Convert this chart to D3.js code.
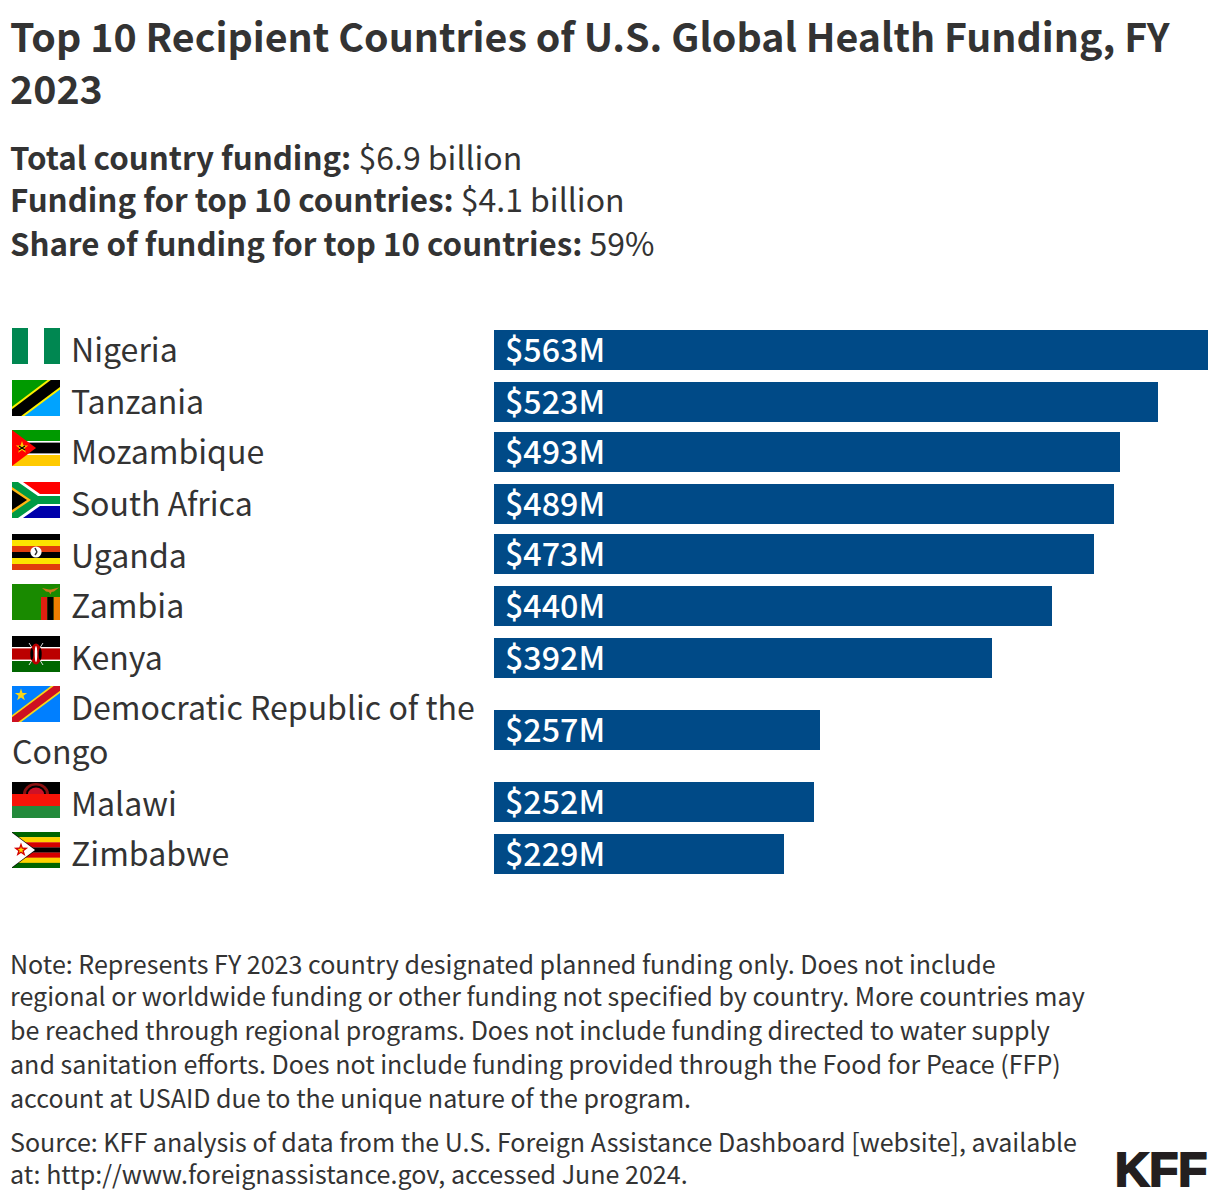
<!DOCTYPE html>
<html><head><meta charset="utf-8">
<script src="https://cdn.jsdelivr.net/npm/d3@7/dist/d3.min.js"></script>
<style>html,body{margin:0;padding:0;background:#fff}svg{display:block}
text{font-family:"Noto Sans CJK SC","Noto Sans CJK JP","Noto Sans",sans-serif;fill:#333}</style>
</head><body><svg id="c" width="1220" height="1204"></svg>
<script>
const countries=["Nigeria","Tanzania","Mozambique","South Africa","Uganda","Zambia","Kenya","Democratic Republic of the Congo","Malawi","Zimbabwe"];
const funding=[563,523,493,489,473,440,392,257,252,229];
const flagCodes=["ng","tz","mz","za","ug","zm","ke","cd","mw","zw"];
const valueLabels=["$563M","$523M","$493M","$489M","$473M","$440M","$392M","$257M","$252M","$229M"];
const titleLines=["Top 10 Recipient Countries of U.S. Global Health Funding, FY","2023"];
const summaryLabels=["Total country funding:","Funding for top 10 countries:","Share of funding for top 10 countries:"];
const summaryValues=["$6.9 billion","$4.1 billion","59%"];
const noteLines=["Note: Represents FY 2023 country designated planned funding only. Does not include","regional or worldwide funding or other funding not specified by country. More countries may","be reached through regional programs. Does not include funding directed to water supply","and sanitation efforts. Does not include funding provided through the Food for Peace (FFP)","account at USAID due to the unique nature of the program."];
const sourceLines=["Source: KFF analysis of data from the U.S. Foreign Assistance Dashboard [website], available","at: http://www.foreignassistance.gov, accessed June 2024."];

const svg=d3.select("#c");
const ink="#333333", barColor="#004a87";

// header
svg.selectAll(".t").data(titleLines).join("text").attr("class","t")
  .attr("x",10).attr("y",(d,i)=>52+i*52).attr("font-size",39.35).attr("font-weight",700).text(d=>d);
const sumY=[170,212,256];
summaryLabels.forEach((l,i)=>{
  const t=svg.append("text").attr("x",10).attr("y",sumY[i]);
  t.append("tspan").attr("font-weight",700).attr("font-size",31.3).text(l);
  t.append("tspan").attr("font-weight",400).attr("font-size",32).text(" "+summaryValues[i]);
});

// scales
const x=d3.scaleLinear().domain([0,d3.max(funding)]).range([494,1208]);
const snap=v=>Math.round(v/2)*2;
const rowStep=51.2, extraLine=43, labelSize=32.1, labelX=71, wrapAt=482;

// wrap labels by measured width
const probe=svg.append("text").attr("font-size",labelSize);
const wrapped=countries.map(n=>{
  const lines=[];let cur="";
  n.split(" ").forEach(w=>{
    const tryL=cur?cur+" "+w:w;
    probe.text(tryL);
    const startX=lines.length?12:labelX;
    if(cur&&startX+probe.node().getComputedTextLength()>wrapAt){lines.push(cur);cur=w}else cur=tryL;
  });
  lines.push(cur);return lines;
});
probe.remove();

const extras=wrapped.map(l=>l.length-1);
const rowTop=[];let acc=330;
countries.forEach((c,i)=>{rowTop.push(acc);acc+=rowStep+extras[i]*extraLine;});

const rows=svg.selectAll(".row").data(countries.map((c,i)=>({c,i,v:funding[i],lab:valueLabels[i],code:flagCodes[i],lines:wrapped[i],top:rowTop[i],extra:extras[i]})))
  .join("g").attr("class","row");

rows.append("rect")
  .attr("x",x(0)).attr("width",d=>snap(x(d.v))-x(0))
  .attr("y",d=>snap(d.top+d.extra*extraLine/2)).attr("height",40).attr("fill",barColor);
rows.append("text").attr("x",x(0)+11)
  .attr("y",d=>snap(d.top+d.extra*extraLine/2)+32)
  .attr("font-size",32.2).style("fill","#fff")
  .style("font-weight",500).text(d=>d.lab);

rows.each(function(d){
  const g=d3.select(this), fy=snap(d.top-1.6);
  const t=g.append("text").attr("font-size",labelSize).attr("y",fy+34).style("fill",ink);
  d.lines.forEach((l,j)=>{
    t.append("tspan").attr("x",j?12:labelX).attr("y",fy+34+j*44).text(l);
  });
  const f=g.append("svg").attr("x",12).attr("y",fy).attr("width",48).attr("height",36).attr("viewBox","0 0 48 36");
  drawFlag(f,d.code);
});

function R(f,x,y,w,h,c){f.append("rect").attr("x",x).attr("y",y).attr("width",w).attr("height",h).attr("fill",c)}
function P(f,pts,c){f.append("polygon").attr("points",pts).attr("fill",c)}
function L(f,x1,y1,x2,y2,c,w){f.append("line").attr("x1",x1).attr("y1",y1).attr("x2",x2).attr("y2",y2).attr("stroke",c).attr("stroke-width",w)}
function star(cx,cy,r){return d3.range(10).map(i=>{const a=-Math.PI/2+i*Math.PI/5,q=i%2?r*0.4:r;return (cx+q*Math.cos(a))+","+(cy+q*Math.sin(a))}).join(" ")}
function drawFlag(f,code){
  if(code==="ng"){R(f,0,0,16,36,"#008751");R(f,16,0,16,36,"#fff");R(f,32,0,16,36,"#008751");}
  if(code==="tz"){R(f,0,0,48,36,"#009a00");P(f,"48,0 48,36 0,36","#00a3ff");L(f,-4,39,52,-3,"#fcf000",15);L(f,-4,39,52,-3,"#000",11);}
  if(code==="mz"){R(f,0,0,48,12,"#009a00");R(f,0,12,48,12,"#000");R(f,0,24,48,12,"#ffca00");R(f,0,11,48,1.6,"#fff");R(f,0,23.4,48,1.6,"#fff");
    P(f,"0,0 24,18 0,36","#f00");P(f,star(10,17.5,6.5),"#ffca00");L(f,7,20,13,16,"#000",1.2);L(f,7,16,13,20,"#000",1.2);}
  if(code==="za"){R(f,0,0,48,18,"#f00");R(f,0,18,48,18,"#00a");
    P(f,"0,0 11,0 28,12 48,12 48,24 28,24 11,36 0,36","#fff");
    P(f,"0,0 6,0 26,14 48,14 48,22 26,22 6,36 0,36","#009a44");
    P(f,"0,5 19,18 0,31","#ffb612");P(f,"0,8 15,18 0,28","#000");}
  if(code==="ug"){["#000","#fce300","#e03c0c","#000","#fce300","#e03c0c"].forEach((c,i)=>R(f,0,i*6,48,6,c));
    f.append("circle").attr("cx",24).attr("cy",18).attr("r",5.6).attr("fill","#fff");
    L(f,23,14,25,18,"#333",1.6);L(f,25,18,23,21,"#333",1.4);}
  if(code==="zm"){R(f,0,0,48,36,"#198a00");R(f,29,13,6.4,23,"#de2010");R(f,35.4,13,6.3,23,"#000");R(f,41.7,13,6.3,23,"#ef7d00");
    P(f,"30,4 37,5.5 39,5.5 47,3.5 42,7.5 39.5,8 38.5,10.5 37,8 34,7.5","#c9781a");}
  if(code==="ke"){R(f,0,0,48,12,"#000");R(f,0,12,48,12,"#b00");R(f,0,24,48,12,"#060");R(f,0,11,48,1.4,"#fff");R(f,0,23.6,48,1.4,"#fff");
    L(f,17,7,31,29,"#ddd",1);L(f,31,7,17,29,"#ddd",1);
    f.append("ellipse").attr("cx",24).attr("cy",18).attr("rx",5.5).attr("ry",10.5).attr("fill","#b00");
    f.append("ellipse").attr("cx",19.8).attr("cy",18).attr("rx",1.5).attr("ry",6).attr("fill","#000");
    f.append("ellipse").attr("cx",28.2).attr("cy",18).attr("rx",1.5).attr("ry",6).attr("fill","#000");
    f.append("ellipse").attr("cx",24).attr("cy",18).attr("rx",1.3).attr("ry",8).attr("fill","#fff");}
  if(code==="cd"){R(f,0,0,48,36,"#007fff");L(f,-4,39,52,-3,"#f7d618",11);L(f,-4,39,52,-3,"#ce1021",7.5);P(f,star(9,9,6.5),"#f7d618");}
  if(code==="mw"){R(f,0,0,48,12,"#000");R(f,0,12,48,12,"#f71408");R(f,0,24,48,12,"#238a3c");
    f.append("path").attr("d","M11,12 A13,11 0 0 1 37,12 Z").attr("fill","#8a1010");f.append("path").attr("d","M14,12 A10,8.5 0 0 1 34,12 Z").attr("fill","#000");f.append("path").attr("d","M16,12 A8,6.5 0 0 1 32,12 Z").attr("fill","#ce1126");}
  if(code==="zw"){["#006400","#ffd200","#d40000","#000","#d40000","#ffd200","#006400"].forEach((c,i)=>R(f,0,i*36/7,48,36/7+.2,c));
    P(f,"0,0 24,18 0,36","#000");
    P(f,"0,0.8 23,18 0,35.2","#fff");
    P(f,star(9,18,7.5),"#d40000");P(f,star(9,18,3.5),"#ffd200");}
}

// footer
const noteY=[974,1006,1040,1074,1108];
svg.selectAll(".n").data(noteLines).join("text").attr("class","n").attr("x",10).attr("y",(d,i)=>noteY[i]).attr("font-size",25.05).text(d=>d);
const srcY=[1152,1184];
svg.selectAll(".s").data(sourceLines).join("text").attr("class","s").attr("x",10).attr("y",(d,i)=>srcY[i]).attr("font-size",25.05).text(d=>d);
svg.append("text").attr("x",1115).attr("y",1186).attr("font-size",47.5).attr("font-weight",700)
  .style("font-family","'Liberation Sans',sans-serif").style("fill","#231f20").attr("stroke","#231f20").attr("stroke-width",2).text("KFF");
</script></body></html>
